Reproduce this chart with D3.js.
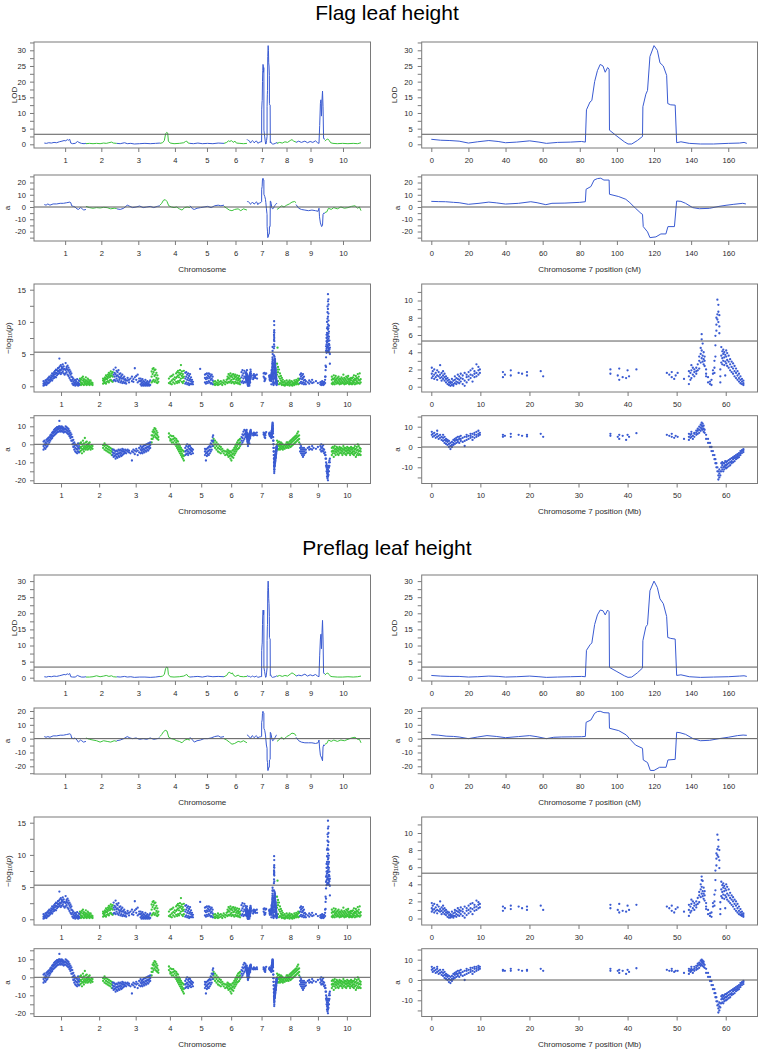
<!DOCTYPE html>
<html><head><meta charset="utf-8">
<script src="https://cdn.jsdelivr.net/npm/d3@7"></script>
<style>body{margin:0;background:#fff}svg{display:block}text{font-family:"Liberation Sans",Arial,sans-serif}</style>
</head><body><script>
// ---------------- DATA ----------------
const chromosomes = ["1","2","3","4","5","6","7","8","9","10"];
const chrLengthCM = [236,174,245,170,193,130,170,108,164,204];
const chrLengthMb = [80.9,77.7,74.4,68.0,62.4,62.2,64.3,55.5,59.4,61.0];
const chr7TicksCM = [0,20,40,60,80,100,120,140,160];
const chr7TicksMb = [0,10,20,30,40,50,60];
const titles = ["Flag leaf height","Preflag leaf height"];
const lodThreshold = [3.2, 3.3];
const gwasThreshold = [5.3, 5.3];

// QTL scan, chromosome 7 (cM, value) flat pairs
const lodFlagChr7 = [0,1.6,5,1.3,10,1.2,15,1.0,20,0.4,25,0.8,31,1.2,36,0.9,40,0.5,46,0.7,53,1.1,58,0.7,62,0.3,68,0.6,75,0.7,81,0.9,83,0.7,83.6,11,85.5,13.5,86.5,14,88,20,89.5,23.5,91,25.5,92.5,25,93.7,23,95,24.5,95.8,24,96,4.5,100,2.6,104,0.8,106,0.1,108,0.1,111,1.2,113.8,2.5,114,12,115.6,16,116.5,17.2,117.8,28,120,31.5,121.8,30,123.2,26,125,25,126.8,22,127.4,13,129,12.6,131.4,12.5,132.2,0.5,134.5,0.8,139,0.3,145,0.1,152,0.1,160,0.3,166,0.4,168.5,0.6,170,0.3];
const lodPreflagChr7 = [0,0.7,5,0.5,10,0.4,15,0.4,20,0.2,25,0.3,31,0.5,36,0.4,40,0.2,46,0.3,53,0.5,58,0.3,62,0.1,68,0.2,75,0.3,81,0.4,83,0.3,83.6,8.5,85.5,10.2,86.5,10.8,88,16.5,89.5,19.5,91,21,92.5,20.8,93.7,19.5,95,21,95.8,20.5,96,3.2,100,1.9,104,0.6,106,0.1,108,0.2,111,1.5,113.8,3,114,11.5,115.6,15.8,116.5,16.5,117.8,27,120,30,121.8,28,123.2,24.5,125,23,126.8,19,127.4,12.5,129,12.2,131.4,12,132.2,0.7,134.5,0.9,139,0.3,145,0.1,152,0.2,160,0.3,166,0.5,168.5,0.6,170,0.4];
const aFlagChr7 = [0,4.6,4,4.4,7.7,4.3,12,3.8,15,3.5,20,2.2,25.7,3,31,4,35,3.4,40,2.4,47,3,53.6,4.3,57,3.5,61.7,1.9,65,3,72,3.2,80,3.8,83,4.3,83.4,14.5,86,16.7,87.7,22,89.5,23.2,91.3,23.5,93,22,95.8,22,96,10.4,101,8.5,104.8,6.3,107,3.5,110,-1,113,-5.2,113.8,-6,114.2,-16,116.5,-20.3,117.8,-25,121,-24.4,123.7,-22,126.4,-22,127.5,-16,131,-16,132.2,4.9,134.5,4.6,137,3,140.8,-0.5,144.4,-1.4,149.8,-1.1,155,0.5,158.8,1.4,163,2.2,167.8,3,169.5,2.5];
const aPreflagChr7 = [0,2.9,4,2.5,8,1.8,12,1.6,15,1.2,20,0,25,1.2,30,2.2,35,1.6,40,0.7,47,1.5,53,2.2,57,1.4,62,0,66,1.0,70,1.2,76,1.3,81,1.4,83,1.6,83.4,11.8,86,13.5,88,18.3,89.5,19.6,91,19.8,93,18.8,95.8,18.6,96,7.5,101,5.8,105,2.7,107.5,-1,110,-4.6,113.8,-7,114.2,-15.4,116.5,-17.3,118,-23,120,-23,123,-20.7,126.5,-20.7,127.5,-15.4,131.4,-15,132.2,4.6,134,4.3,137,3.1,141,0,145,-1.5,150,-1.2,155,0,160,1,165,2.2,168,2.6,170,2.4];

// QTL scan, other chromosomes (index = chromosome-1; chromosome 7 comes from the arrays above)
const lodFlag = [
 [0,0.4,12,0.3,25,0.5,40,0.4,55,0.6,70,0.5,85,0.8,100,1.0,112,1.2,122,1.1,130,1.5,138,1.3,144,1.6,150,0.4,160,0.2,175,0.3,188,0.9,196,0.6,210,0.3,225,0.2,236,0.3],
 [0,0.2,20,0.3,40,0.2,60,0.3,80,0.2,100,0.4,115,0.3,130,0.5,145,0.7,155,0.4,174,0.3],
 [0,0.3,20,0.2,45,0.5,60,0.2,80,0.3,100,0.1,130,0.2,160,0.3,190,0.2,220,0.3,245,0.4],
 [0,0.3,15,0.5,25,1.2,32,3.3,38,3.8,44,3.6,48,1.0,58,0.4,80,0.2,110,0.3,135,0.5,145,0.9,152,1.0,160,0.4,170,0.3],
 [0,0.3,20,0.2,45,0.4,70,0.2,100,0.3,130,0.2,160,0.4,193,0.3],
 [0,0.3,15,0.6,25,1.1,33,0.9,42,1.2,52,0.6,62,1.0,70,0.4,90,0.3,110,0.2,130,0.3],
 null,
 [0,0.3,15,0.6,30,0.4,45,0.8,60,0.6,75,1.2,85,1.5,95,1.0,108,0.7],
 [0,0.6,15,1.0,30,0.6,50,1.0,65,0.5,80,0.9,95,0.6,110,1.1,122,0.5,130,0.3,134,6,138,13,141,14.2,144,9,147,14,150,17,153,12,156,2,160,1.6,164,1.8],
 [0,1.0,8,1.5,16,1.7,24,1.2,32,0.5,45,0.3,70,0.2,100,0.3,130,0.2,160,0.3,185,0.2,204,0.5]
];
const lodPreflag = [
 [0,0.3,12,0.2,25,0.4,40,0.3,55,0.5,70,0.4,85,0.6,100,0.8,112,1.0,122,0.9,130,1.2,138,1.0,144,1.3,150,0.3,160,0.2,175,0.2,188,0.7,196,0.5,210,0.2,225,0.2,236,0.3],
 [0,0.2,20,0.2,40,0.3,60,0.6,80,0.3,100,0.5,115,0.7,130,0.4,145,0.6,155,0.3,174,0.2],
 [0,0.3,20,0.2,45,0.4,60,0.2,80,0.3,100,0.1,130,0.2,160,0.2,190,0.1,220,0.2,245,0.4],
 [0,0.3,15,0.5,25,1.0,32,2.8,38,3.3,44,3.1,48,1.0,58,0.3,80,0.2,110,0.3,135,0.5,145,0.8,152,1.0,160,0.4,170,0.2],
 [0,0.2,20,0.3,45,0.4,70,0.2,100,0.5,130,0.3,160,0.4,193,0.3],
 [0,0.3,15,0.7,25,1.6,33,1.7,40,1.2,47,1.5,55,0.7,65,0.4,80,0.8,90,0.4,110,0.3,130,0.4],
 null,
 [0,0.4,15,0.7,30,0.4,45,0.7,60,0.5,75,1.1,85,1.5,95,1.2,108,0.6],
 [0,0.5,15,0.8,30,0.6,50,1.1,65,0.5,80,0.9,95,0.6,110,1.0,122,0.5,130,0.3,134,7,138,12,141,13.5,144,9,147,14,150,17.8,153,12,156,1.5,160,1.2,164,1.4],
 [0,0.8,8,1.3,16,1.4,24,1.0,32,0.4,45,0.3,70,0.2,100,0.2,130,0.3,160,0.2,185,0.3,204,0.5]
];
const aFlag = [
 [0,2,10,1.5,20,2.5,32,1.5,50,2.5,70,2.5,90,3,108,3,127,3.5,145,4,150,3.5,155,1,165,0.5,174,0,185,-1.5,193,-2,205,-0.5,212,-1,222,-2.5,236,-2],
 [0,0.5,20,-0.5,40,-1,60,-0.5,80,-0.8,100,-0.3,120,-0.5,140,-1.5,160,-1,174,-1.2],
 [0,-1.5,20,-2,40,-1,60,1.5,75,0.5,90,-0.5,110,0,130,0.8,150,-0.5,170,0,190,0.5,210,-0.5,230,0.5,245,1],
 [0,1.5,10,3,20,5.5,30,6,40,4.5,50,1,65,0,80,-0.5,95,0,110,-1.5,125,-2.5,140,-0.5,155,0,170,-0.5],
 [0,1,15,-1.5,25,-2,40,-1,60,-0.5,80,0,100,0.5,120,-0.5,140,1,160,1.5,175,1,193,1.5],
 [0,0.5,15,-1,30,-2.5,45,-3,60,-2,80,-1.5,95,-3,110,-1.5,130,-2.5],
 null,
 [0,-2,15,-0.5,25,1,40,0,55,1.5,70,2.5,85,4,100,4.5,108,3.5],
 [0,2,15,-1,30,-2,50,-2.5,70,-3,90,-2.5,110,-3,125,-3.5,130,-1,133,-8,138,-13,145,-16,150,-15,153,-6,157,-5,164,-5],
 [0,-4.5,10,-4,20,-1,35,-2,50,-0.5,70,-1.5,90,0,110,-1,130,-0.5,150,0.5,170,1,185,-1,195,0,204,-3]
];
const aPreflag = [
 [0,1.5,10,1,20,1.5,32,1,50,2,70,2,90,2.5,108,2.5,127,3,145,3.5,150,3,155,0.5,165,0,174,0.5,185,-1,193,-2.5,205,-1,212,-1.5,222,-2.5,236,-2],
 [0,0.5,20,-0.5,40,-1,60,-1.5,80,-2.5,100,-1.5,120,-2,140,-2.5,160,-1.5,174,-2],
 [0,-1.5,20,-1,40,0,60,1.5,75,0.5,90,0,110,0.5,130,-0.5,150,0,170,-0.5,190,0.5,210,-0.5,230,0,245,0.5],
 [0,1.5,10,3,20,5,30,6,40,5.5,50,1,65,0,80,-0.5,95,-1.5,110,-2,125,-3,140,-1,155,-0.5,170,-1],
 [0,1,15,-1,25,-2.5,40,-1.5,60,-1,80,0,100,0,120,0.5,140,1.5,160,2,175,1,193,1.5],
 [0,0,15,-1,30,-2.5,45,-4,60,-3.5,80,-2,95,-2.5,110,-1.5,130,-3],
 null,
 [0,-2,15,-0.5,25,1,40,-0.5,55,1.5,70,2.5,85,4,100,3.5,108,2],
 [0,1,15,-1.5,30,-2.5,50,-3,70,-3,90,-3,110,-3.5,125,-3,130,-1,133,-6,138,-12,145,-14,150,-16,153,-6,157,-4.5,164,-5],
 [0,-4,10,-3.5,20,-1,35,-2,50,-1,70,-2,90,-1,110,-1.5,130,-0.5,150,0.5,170,1,185,-0.5,195,-0.5,204,-3]
];

// GWAS, chromosome 7 only: rows [position Mb, values...]
const logpFlagChr7 = [[0.1,1.5,2.2,1.0],[0.3,1.8,1.2],[0.6,1.4,2.0,0.9],[0.9,1.6,1.1],[1.2,1.3,1.9,0.8],[1.5,1.2,1.7],[1.8,2.5,1.4,1.0],[2.1,1.1,1.6,0.7],[2.4,0.9,1.3,1.8],[2.7,0.7,1.1,1.5],[3.0,0.5,0.9,1.2],[3.3,0.3,0.7,1.0],[3.6,0.2,0.5,0.8],[3.9,0.1,0.4,0.6],[4.2,0.2,0.5,0.9],[4.5,0.1,0.3,0.7],[4.8,0.4,0.8,1.2],[5.1,0.3,0.6,1.0],[5.4,0.5,0.9,1.4],[5.7,0.4,0.8,1.2],[6.0,0.6,1.0,1.5],[6.4,0.3,0.9,1.3],[6.8,0.1,0.7,1.6],[7.2,0.5,1.1,1.4],[7.6,0.8,1.2,1.7],[8.0,1.0,1.4,1.9],[8.4,0.6,1.3,2.1],[8.8,1.1,1.5,1.8],[9.2,1.2,1.6,2.6],[9.6,1.4,1.9,2.3],[9.9,1.6,2.0],[14.6,1.7,1.1],[15.0,1.4],[16.2,1.9,1.3],[17.8,1.6],[18.5,1.5],[19.5,1.7,1.3],[22.3,1.8],[22.8,1.2],[36.5,2.0,1.5],[38.0,1.3],[38.3,2.1,0.8],[39.0,1.1],[39.7,1.0],[40.0,1.9],[40.3,1.2],[41.8,2.0],[48.0,1.6],[48.5,1.4],[49.0,1.7,1.1],[49.5,0.9],[49.8,1.3],[50.2,1.6],[51.5,0.9],[52.5,0.3,1.2,1.8],[52.8,0.8,1.6],[53.0,1.0,1.9,2.5],[53.3,1.4,2.2],[53.6,1.2,2.0,1.7],[54.0,1.5,2.2,1.8],[54.3,1.9,2.6],[54.6,2.1,3.0,3.5],[54.9,2.8,3.8,4.5],[55.1,3.3,4.2,5.5,6.1],[55.3,2.9,3.6,5.0],[55.5,2.6,3.2,4.0],[55.7,2.4,3.0,3.5],[56.0,1.2,2.0,1.5],[56.4,0.5,1.1],[56.8,0.3,0.6],[57.1,0.2,0.8],[57.4,1.5,1.9],[57.7,1.6,2.2,3.0],[57.9,3.5,4.8,5.9],[58.1,6.5,7.2,8.0],[58.3,10.1,7.8,8.4],[58.5,7.5,8.7,9.5],[58.7,6.2,7.0,8.3],[58.9,0.5,1.2,2.0],[59.1,2.8,3.6,4.6],[59.3,2.6,3.3,4.1],[59.5,3.0,3.8,4.3],[59.7,2.5,3.4,4.0],[59.9,1.3,2.9,3.7],[60.1,2.7,3.5,4.2],[60.3,2.4,3.1,3.9],[60.6,2.2,2.9,3.6],[60.9,1.9,2.6,3.2],[61.2,1.7,2.3,2.9],[61.5,1.5,2.1,2.7],[61.8,1.2,1.8,2.4],[62.1,1.0,1.6,2.1],[62.4,0.8,1.3,1.8],[62.7,0.6,1.0,1.5],[63.0,0.4,0.8,1.2],[63.3,0.3,0.6,0.9],[63.6,0.2,0.4,0.7]];
const logpPreflagChr7 = [[0.1,1.2,1.8,0.8],[0.3,1.5,1.0],[0.6,1.1,1.7,0.7],[0.9,1.3,0.9],[1.2,1.0,1.6,0.6],[1.5,0.9,1.4],[1.8,2.0,1.1,0.8],[2.1,0.9,1.3,0.5],[2.4,0.7,1.1,1.5],[2.7,0.5,0.9,1.2],[3.0,0.4,0.7,1.0],[3.3,0.2,0.6,0.8],[3.6,0.1,0.4,0.7],[3.9,0.1,0.3,0.5],[4.2,0.2,0.4,0.8],[4.5,0.1,0.3,0.6],[4.8,0.3,0.7,1.0],[5.1,0.2,0.5,0.9],[5.4,0.4,0.8,1.2],[5.7,0.3,0.7,1.0],[6.0,0.5,0.9,1.3],[6.4,0.3,0.8,1.1],[6.8,0.1,0.6,1.4],[7.2,0.4,0.9,1.2],[7.6,0.6,1.0,1.5],[8.0,0.8,1.2,1.7],[8.4,0.5,1.1,1.8],[8.8,0.9,1.3,1.6],[9.2,1.0,1.4,2.1],[9.6,1.2,1.6,1.9],[9.9,1.3,1.7],[14.6,1.4,0.9],[15.0,1.2],[16.2,1.5,1.1],[17.8,1.4],[18.5,1.2],[19.5,1.4,1.0],[22.3,1.5],[22.8,1.0],[36.5,1.6,1.2],[38.0,1.0],[38.3,1.7,0.7],[39.0,0.9],[39.7,0.8],[40.0,1.5],[40.3,1.0],[41.8,1.6],[48.0,1.4],[48.5,1.2],[49.0,1.5,0.9],[49.5,0.7],[49.8,1.1],[50.2,1.3],[51.5,0.8],[52.5,0.3,1.0,1.6],[52.8,0.7,1.4],[53.0,0.9,1.7,2.2],[53.3,1.2,2.0],[53.6,1.0,1.8,1.5],[54.0,1.3,2.0,1.6],[54.3,1.7,2.4],[54.6,1.9,2.7,3.1],[54.9,2.5,3.4,4.0],[55.1,2.9,3.7,4.5,4.9],[55.3,2.6,3.2,4.4],[55.5,2.3,2.9,3.6],[55.7,2.1,2.7,3.2],[56.0,1.1,1.8,1.4],[56.4,0.5,1.0],[56.8,0.3,0.6],[57.1,0.2,0.7],[57.4,1.4,1.8],[57.7,1.5,2.0,2.8],[57.9,3.3,4.5,5.6],[58.1,6.2,7.0,7.6],[58.3,9.8,7.4,8.1],[58.5,7.2,8.4,9.2],[58.7,5.9,6.8,8.0],[58.9,0.5,1.1,1.9],[59.1,2.6,3.4,4.3],[59.3,2.4,3.1,3.9],[59.5,2.8,3.6,4.1],[59.7,2.3,3.2,3.8],[59.9,1.2,2.7,3.5],[60.1,2.5,3.3,4.0],[60.3,2.2,2.9,3.7],[60.6,2.0,2.7,3.4],[60.9,1.8,2.4,3.0],[61.2,1.6,2.2,2.7],[61.5,1.4,2.0,2.5],[61.8,1.1,1.7,2.2],[62.1,0.9,1.5,2.0],[62.4,0.7,1.2,1.7],[62.7,0.5,0.9,1.4],[63.0,0.4,0.7,1.1],[63.3,0.3,0.5,0.8],[63.6,0.2,0.4,0.6]];
const effFlagChr7 = [[0.1,6,7.5],[0.3,5,6.5],[0.6,5.5,7],[0.9,4.5,6],[1.2,5,6.5,8],[1.5,4,5.5],[1.8,4.5,6],[2.1,3.5,5],[2.4,3,4.5,6],[2.7,2,3.5,5],[3.0,1.5,3,4],[3.3,1,2.5,3.5],[3.6,0,1.5,3],[3.9,-1,0.5,2],[4.2,0,1,2.5],[4.5,1,2,3.5],[4.8,1.5,3,4],[5.1,2,3.5,4.5],[5.4,2.5,3.5,5],[5.7,2,4,5],[6.0,3,4,5.5],[6.4,2.5,4.5],[6.8,0.5,3,5],[7.2,3.5,5,6],[7.6,4,5.5],[8.0,4.5,5.5,6.5],[8.4,3.5,5,6.5],[8.8,4.5,6,7],[9.2,5,6,7.5],[9.6,5.5,6.5,8],[9.9,6,7],[14.6,6,5],[15.0,5.5],[16.2,6.5,5],[17.8,6],[18.5,5.5],[19.5,5.2,6],[22.3,6.5],[22.8,5],[36.5,6.5,5.5],[38.0,5],[38.3,4,6],[39.0,5.5],[39.7,3.5],[40.0,6],[40.3,5],[41.8,6.8],[48.0,6],[48.5,5.5],[49.0,6.5,5],[49.5,4.5],[49.8,5.5],[50.2,5],[51.5,4],[52.5,3.5,5,6.5],[52.8,4.5,6],[53.0,5,6.5,7.5],[53.3,4,5.5],[53.6,5,6.5,7],[54.0,6,7,8],[54.3,6.5,8,9],[54.6,7,8.5,10],[54.9,8,9.5,11],[55.1,9,10.5,12],[55.3,8.5,10,11.5],[55.5,7.5,9,10.5],[55.7,7,8.5],[56.0,4,6],[56.4,2,4],[56.8,0,2],[57.1,-2,0],[57.4,-4,-2],[57.7,-6,-4],[57.9,-8,-6],[58.1,-10,-8],[58.3,-12,-10],[58.5,-16,-14,-12],[58.7,-15,-13,-11],[58.9,-14,-12],[59.1,-12,-10,-8],[59.3,-11,-9,-7.5],[59.5,-12,-10,-8],[59.7,-11,-9.5,-8],[59.9,-10,-9,-7],[60.1,-10.5,-9,-7.5],[60.3,-10,-8.5,-7],[60.6,-9.5,-8,-6.5],[60.9,-9,-7.5,-6],[61.2,-8,-7,-5.5],[61.5,-7.5,-6,-5],[61.8,-7,-5.5,-4.5],[62.1,-6,-5,-4],[62.4,-5.5,-4.5,-3.5],[62.7,-5,-4,-3],[63.0,-4,-3,-2],[63.3,-3,-2,-1.5],[63.6,-2.5,-1.5,-1]];
const effPreflagChr7 = [[0.1,5,6.5],[0.3,4,5.5],[0.6,4.5,6],[0.9,3.5,5],[1.2,4,5.5,6.5],[1.5,3,4.5],[1.8,3.5,5],[2.1,2.5,4],[2.4,2,3.5,5],[2.7,1,2.5,4],[3.0,0.5,2,3],[3.3,0,1.5,2.5],[3.6,-1,0.5,2],[3.9,-1.5,0,1.5],[4.2,-0.5,0.5,2],[4.5,0.5,1.5,3],[4.8,1,2.5,3.5],[5.1,1.5,3,4],[5.4,2,3,4.5],[5.7,1.5,3.5,4.5],[6.0,2.5,3.5,5],[6.4,2,4],[6.8,0,2.5,4.5],[7.2,3,4.5,5.5],[7.6,3.5,5],[8.0,4,5,6],[8.4,3,4.5,6],[8.8,4,5.5,6.5],[9.2,4.5,5.5,6.5],[9.6,5,6,7],[9.9,5.5,6.5],[14.6,5,4.5],[15.0,4.5],[16.2,5.5,4.5],[17.8,5],[18.5,4.5],[19.5,4.5,5],[22.3,5.5],[22.8,4.5],[36.5,5.5,4.5],[38.0,4.5],[38.3,3.5,5],[39.0,4.5],[39.7,3],[40.0,5],[40.3,4],[41.8,5.8],[48.0,5],[48.5,4.5],[49.0,5.5,4.5],[49.5,4],[49.8,4.5],[50.2,4.5],[51.5,3.5],[52.5,3,4.5,5.5],[52.8,4,5],[53.0,4.5,5.5,6.5],[53.3,3.5,5],[53.6,4.5,5.5,6.5],[54.0,5,6,7],[54.3,5.5,7,8],[54.6,6,7.5,8.5],[54.9,7,8,9.5],[55.1,7.5,9,10],[55.3,7,8.5,9.5],[55.5,6.5,8,9],[55.7,6,7.5],[56.0,3.5,5.5],[56.4,1.5,3.5],[56.8,-0.5,1.5],[57.1,-2.5,-0.5],[57.4,-4.5,-2.5],[57.7,-6.5,-4.5],[57.9,-8.5,-6.5],[58.1,-10.5,-8.5],[58.3,-12.5,-10.5],[58.5,-16,-14,-12],[58.7,-15,-13,-11],[58.9,-13.5,-11.5],[59.1,-11.5,-9.5,-8],[59.3,-11,-9,-7.5],[59.5,-11.5,-9.5,-8],[59.7,-10.5,-9,-7.5],[59.9,-10,-8.5,-7],[60.1,-10,-8.5,-7],[60.3,-9.5,-8,-6.5],[60.6,-9,-7.5,-6],[60.9,-8.5,-7,-5.5],[61.2,-7.5,-6.5,-5],[61.5,-7,-5.5,-4.5],[61.8,-6.5,-5,-4],[62.1,-5.5,-4.5,-3.5],[62.4,-5,-4,-3],[62.7,-4.5,-3.5,-2.5],[63.0,-3.5,-2.5,-1.5],[63.3,-2.5,-1.5,-1],[63.6,-2,-1,-0.5]];

// GWAS, genome-wide except chromosome 7: rows [cumulative position Mb, values...]
const logpBlue = [[4,0.1,0.4,0.8],[6,0.2,0.6,0.3],[8,0.3,0.9,0.5],[10,0.2,0.7,1.0],[12,0.4,1.1,0.6],[14,0.5,1.3,0.9],[16,0.6,1.0,1.5],[18,0.8,1.4,1.1],[20,1.0,1.7,1.3],[22,0.9,1.5,2.0],[24,1.2,1.9,1.6],[26,1.3,2.2,1.8],[28,1.5,2.4,1.9],[30,1.4,2.1,2.6],[32,1.7,2.5,2.0],[34,1.9,2.8,2.3],[36,2.0,2.9,2.4],[37,4.3],[38,2.2,3.1,2.6],[40,2.5,3.3,1.9],[42,2.1,3.0,2.7],[44,2.3,2.8,3.4],[46,2.0,2.6,3.1],[48,1.8,2.7],[50,2.5,3.6,2.0],[52,2.2,3.0,2.7],[54,1.8,2.6,3.2],[56,1.6,2.4,2.9],[58,1.3,2.1,2.6],[60,1.0,1.8,2.3],[62,0.8,1.5,2.0],[64,0.4,1.0,1.4],[66,0.2,0.7,1.2],[68,0.3,0.9,0.5],[70,0.1,0.6,1.0],[72,0.3,0.8,0.4],[74,0.2,0.5,1.1],[76,0.1,0.6,0.3],[78,0.4,0.9,0.2],[150,0.9,1.8,2.6],[152,1.0,2.1,1.5],[154,0.8,1.9,2.9],[156,1.2,2.4,1.6],[158,0.9,1.7,2.2],[160,0.7,1.5,2.5],[162,1.0,1.9,1.3],[164,0.6,1.4,2.0],[166,0.8,1.6,1.2],[168,0.5,1.2,1.8],[170,0.7,1.3],[172,0.5,1.0,1.5],[174,0.6,1.1],[176,0.4,0.9],[179,0.9,1.3],[182,1.0,0.6],[185,1.2],[188,0.8,1.5],[191,1.1,0.7],[194,1.4,2.8],[197,1.0,1.6],[200,0.6,1.8],[203,1.2,0.8],[206,0.3,0.8,1.2],[208,0.1,0.5,0.9],[210,0.2,0.6,1.1],[212,0.1,0.4,0.8],[214,0.3,0.7,0.2],[216,0.1,0.5,1.0],[218,0.2,0.6,0.3],[220,0.1,0.4,0.8],[222,0.2,0.5],[224,0.3,0.7,0.1],[226,0.2,0.9],[299,0.4,1.2,2.1],[301,0.6,1.5,2.2],[303,0.3,1.0,1.8],[305,0.5,1.3,2.0],[307,0.2,0.9,1.6],[309,0.4,1.1,1.9],[311,0.3,0.8,1.4],[313,0.5,1.0],[315,0.3,0.7],[330,2.7],[340,0.6,1.3,1.8],[342,0.4,1.1,1.9],[344,0.7,1.4,2.0],[346,0.5,1.2,1.7],[348,0.8,1.5,2.0],[350,0.6,1.3,1.9],[352,0.4,1.0,1.6],[354,0.5,1.2,1.8],[356,0.3,0.9,1.5],[416,0.6,1.4,2.2],[418,0.8,1.7,2.5],[420,0.5,1.2,2.0],[422,0.7,1.5,2.4],[424,0.6,1.3,2.1],[538,0.5,1.2,1.8],[540,0.7,1.5,2.0],[542,0.4,1.1,1.7],[544,0.6,1.3,1.9],[546,0.3,0.9,1.5],[548,0.5,1.0],[550,0.3,0.8],[554,0.6],[557,0.9,0.4],[560,0.7],[563,1.0,0.5],[566,0.6],[571,0.8],[575,0.5],[580,0.3,0.6],[582,0.2,0.7,0.4],[584,0.3,0.8],[586,0.4,0.6,0.2],[588,0.3,0.7],[590,0.5,1.0,1.5]];
const logpGreen = [[80,0.3,0.8,1.2],[82,0.2,0.6,1.0],[84,0.5,1.3,0.4],[86,0.3,0.9,1.5],[88,0.2,0.7,1.1],[90,0.4,1.0,0.6],[92,0.3,0.8,1.4],[94,0.2,0.5,0.9],[96,0.4,1.2,0.7],[98,0.3,0.6,1.0],[100,0.2,0.8,0.5],[102,0.4,0.9],[104,0.3,0.6],[106,0.2,0.5],[128,0.4,0.9,1.2],[130,0.5,1.1,0.8],[132,0.6,1.4,1.0],[134,0.4,1.2,1.7],[136,0.7,1.5,1.1],[138,0.8,1.8,1.3],[140,0.6,1.6,2.1],[142,0.9,1.9,1.4],[144,1.0,2.3,1.6],[146,0.8,1.7,2.0],[148,0.7,1.5,2.2],[229,0.6,1.5,2.3],[231,0.8,1.9,2.7],[233,1.0,2.2,2.8],[235,0.7,1.6,2.5],[237,0.9,1.8,2.6],[239,0.6,1.3,2.1],[241,0.5,1.0,1.7],[243,0.7,1.2],[265,0.5,1.2],[268,0.7,1.5,0.4],[271,0.3,0.9,1.6],[274,0.6,1.1,1.8],[277,0.4,1.0,1.4],[280,0.7,1.3,2.0],[282,0.5,1.5,2.2],[284,0.8,1.7,2.4],[286,0.6,1.4,2.1],[288,0.9,1.8,2.5],[290,3.3,1.2,2.0],[292,0.7,1.6,2.3],[294,0.5,1.3,1.9],[296,0.8,1.5,2.4],[358,0.3,0.7],[361,0.4,0.8,0.2],[364,0.3,0.6],[367,0.5,0.9,0.2],[370,0.3,0.7],[373,0.4,0.8],[376,0.2,0.6],[379,0.5,0.9],[382,0.3,0.7],[385,0.6,1.0],[387,0.5,1.1,1.5],[389,0.7,1.3,1.9],[391,0.6,1.2,1.7],[393,0.8,1.5,2.0],[395,0.5,1.0,1.6],[397,0.7,1.4,1.8],[399,0.6,1.1,1.9],[401,0.4,1.2,1.6],[403,0.7,1.4,1.8],[405,0.5,1.0,1.5],[407,0.6,1.2,1.7],[409,0.4,0.9,1.3],[411,0.5,1.1,1.6],[413,0.3,0.8,1.2],[490,0.5,1.8,3.5],[491,6.0,2.6],[492,0.8,2.2,3.0],[494,0.3,1.5,2.6],[496,0.5,1.2,2.0],[498,0.4,0.9,1.6],[500,0.2,0.7,1.3],[502,0.3,0.6,1.0],[504,0.2,0.6],[506,0.3,0.8,0.1],[508,0.2,0.5],[510,0.4,0.9],[512,0.2,0.6,0.3],[514,0.3,0.7],[516,0.1,0.5,0.9],[518,0.3,0.6],[520,0.2,0.8],[522,0.4,0.7,0.1],[524,0.3,0.5],[526,0.2,0.9,0.5],[528,0.4,0.7],[530,0.3,0.6,1.0],[532,0.5,0.8],[534,0.3,0.9,1.2],[536,0.4,1.0],[604,0.4,1.0,1.5],[606,0.6,1.2,0.3],[608,0.5,1.1,1.7],[610,0.3,0.8,1.3],[612,0.6,1.0,1.6],[614,0.4,0.9,1.2],[616,0.7,1.3,0.5],[618,0.5,1.0,1.5],[620,0.3,0.8,1.2],[622,0.6,1.1,0.4],[624,0.4,0.9,1.4],[626,0.7,1.2,0.5],[628,0.5,1.0,1.8],[630,0.3,0.8,1.3],[632,0.6,1.1,0.4],[634,0.4,0.9,1.5],[636,0.7,1.3,0.5],[638,0.5,1.0,1.6],[640,0.3,0.8,1.2],[642,0.6,1.1,0.4],[644,0.4,0.9,1.3],[646,0.5,1.2,0.3],[648,0.4,0.8,1.4],[650,0.6,1.0,1.7],[652,0.3,0.9,1.2],[654,0.5,1.1,1.6],[656,0.4,0.8,1.3],[658,0.6,1.2,1.9],[660,0.5,1.0,1.5],[662,0.4,0.9,2.0],[664,0.6,1.1]];
const logpPeakFlag = [[591,1.5,2.5,3.2],[592,3.0,4.5,5.5,6.2],[593,5.2,5.8,6.5,7.0,7.5,8.0],[594,5.3,6.0,6.8,7.6,8.3,9.0,10.0],[595,5.5,6.3,7.2,8.1,9.2,10.5,11.5,12.4],[596,5.4,6.1,7.0,7.8,8.8,9.6,10.8,12.0,13.2,14.3],[597,5.6,6.5,7.4,8.2,9.0,10.2,11.3,12.7,13.5],[598,5.3,5.9,6.6,7.7,8.5,9.4],[599,5.2,5.7,6.4,7.1],[600,3.5,5.0,6.0]];
const logpPeakPreflag = [[591,1.6,2.7,3.5],[592,3.2,4.8,5.8,6.6],[593,5.3,6.0,6.8,7.4,8.0,8.6],[594,5.4,6.2,7.1,8.0,8.9,9.8,10.8],[595,5.6,6.5,7.5,8.5,9.7,11.0,12.2,13.2],[596,5.5,6.3,7.3,8.2,9.3,10.2,11.5,12.8,14.1,15.3],[597,5.7,6.7,7.7,8.6,9.5,10.8,12.0,13.4,14.4],[598,5.4,6.1,6.9,8.0,8.9,9.9],[599,5.3,5.9,6.7,7.4],[600,3.7,5.2,6.3]];
const effBlue = [[4,-3,-1,1.5],[6,-2,0,2],[8,-2.5,-0.5,1],[10,-1.5,0.5,2.5],[12,-1,1.5,3],[14,0,2,3.5],[16,1,2.5,4],[18,2,3.5,5],[20,3,4.5,5.5],[22,3.5,5,6.5],[24,4.5,6,7],[26,5,6.5,8],[28,5.5,7,8.5],[30,6,7.5,9],[32,6.5,8,9.5],[34,7,8.5,9.5],[36,7,8.5,10],[37,13],[38,7.5,9,10],[40,7,8.5,9.5],[42,7.5,9,10],[44,7,8.5,9.5],[46,6.5,8,9],[48,7,8.5],[50,7,8.5,10],[52,6.5,8,9.5],[54,6,7.5,9],[56,5.5,7,8.5],[58,4.5,6,7.5],[60,3.5,5,6.5],[62,2,4,5.5],[64,0,2,4],[66,-1.5,0.5,2.5],[68,-3,-1,1],[70,-4,-2,0],[72,-4.5,-2.5,-0.5],[74,-5,-3,-1],[76,-4,-2,0.5],[78,-4.5,-2.5,-1],[148,-6,-4.5,-3],[150,-7,-5,-3],[152,-6.5,-5,-3.5],[154,-8,-6,-4],[156,-7,-5.5,-3.5],[158,-7.5,-5.5,-4],[160,-6.5,-5,-3],[162,-7,-5,-3.5],[164,-6,-4.5,-3],[166,-6.5,-5,-3.5],[168,-6,-4,-2.5],[170,-5.5,-4,-3],[172,-5,-4],[174,-4.5,-3],[176,-5,-3.5],[179,-4,-3],[182,-3.5,-4.5],[185,-5],[188,-9,-4],[191,-4.5,-3],[194,-5.5,-3.5],[197,-4,-2.5],[200,-6,-3.5],[203,-4.5,-2],[206,-5,-3,-1],[208,-4.5,-3.5,-2],[210,-5,-3,-1.5],[212,-4,-2.5,-1],[214,-4.5,-3,-0.5],[216,-3.5,-2,-0.5],[218,-4,-2,0],[220,-3,-1.5,0],[222,-3.5,-1.5,0.5],[224,-2.5,-1,0.5],[226,-2,-0.5,1],[299,-6,-4,-2],[301,-5.5,-3.5,-1],[303,-5,-3,0],[305,-6,-4,-1.5],[307,-5,-2.5,-0.5],[309,-4.5,-3,-1],[311,-5.5,-3.5,-2],[313,-4,-2.5],[315,-5,-3],[340,-6,-4,-2.5],[342,-9,-5,-3],[344,-6.5,-4.5,-2.5],[346,-5.5,-4,-2],[348,-6,-3.5,-1.5],[350,-5,-3,-1],[352,-4,-1.5,0.5],[354,-3,0,2],[356,-1,1.5,4],[357,2,5],[416,0,2,4],[418,1,3.5,5.5],[420,2,5,7],[422,3,5.5,8],[424,4,6,7.5],[538,-4,-2,0],[540,-5,-3,-1],[542,-6,-4,-2],[544,-7,-5,-3],[546,-6,-4,-2],[548,-5,-3],[550,-4.5,-3],[554,-2],[557,-3,-1.5],[560,-2.5],[563,-3,-1],[566,-2],[571,-2.5],[575,-1.5],[580,-3,-1],[582,-4,-2,0],[584,-3.5,-1.5],[586,-4,-2.5,-0.5],[588,-5,-3],[590,-6,-4.5],[591,-8,-6],[592,-10,-8,-12],[593,-11,-13,-15],[594,-12,-14,-16,-18],[595,-13,-15,-17,-19],[596,-14,-16,-18,-20],[597,-12,-15,-17],[598,-10,-13,-15],[599,-9,-12],[600,-8,-10]];
const effGreen = [[80,-4,-2,0.5],[82,-3.5,-1.5,1],[84,-5,-2.5,0],[86,-3,-1,2],[88,-4,-2,0.5],[90,-2.5,-1,3.5],[92,-3,-1.5,1],[94,-2,-0.5,1.5],[96,-3,-1.5,0],[98,-2.5,-1,0.5],[100,-2,-1,1],[102,-3,-1.5],[104,-2,-0.5],[106,-2.5,-1],[128,-2,-0.5],[131,-3,-1,0.5],[134,-3.5,-2,-0.5],[137,-4,-2.5,-1],[140,-4.5,-3,-1.5],[143,-5,-3.5,-2],[146,-6,-4,-2.5],[229,1,3,5],[231,3,5,7],[233,4,6.5,8],[235,5,7,9],[237,4,6,8.5],[239,3.5,5.5,7.5],[241,3,5,6.5],[243,2.5,4],[265,4,6],[268,3,5,2],[271,2.5,4.5,1],[274,1,3,4.5],[277,0,2,3.5],[280,-1,1,3],[282,-2,0,2],[284,-3,-1,1.5],[286,-4,-2,0],[288,-5,-3,-1],[290,-6,-4,-2],[292,-7,-5,-3],[294,-8,-6,-3.5],[296,-9,-6.5,-4],[358,-1,1,3],[361,-2,0,2],[364,-3,-1,1],[367,-4,-2,0],[370,-4.5,-2.5,-1],[373,-5,-3,-1.5],[376,-4,-2.5],[379,-5,-3.5],[382,-6,-4],[385,-5.5,-4],[387,-6,-4.5,-3],[389,-7,-5,-3.5],[391,-6.5,-5,-4],[393,-8,-6,-4],[395,-9,-6.5,-4.5],[397,-7,-5.5,-3.5],[399,-7.5,-5,-3],[401,-6,-4,-2],[403,-5,-3,-1],[405,-4,-2,0],[407,-3,-1,1],[409,-2.5,0,2],[411,-2,0.5,2.5],[413,-1,1,3],[490,-2,0,2],[492,-3,-1,1],[494,-2.5,-0.5,1.5],[496,-3,-1.5,0.5],[498,-2,-0.5,1],[500,-2.5,-1,0.5],[502,-3,-1.5,0],[504,-2,-1],[506,-2.5,-0.5],[508,-1.5,0],[510,-2,-0.5,1],[512,-1.5,0,1],[514,-2,-0.5,0.5],[516,-1,0,1.5],[518,-1.5,0.5,2],[520,-1,1,2.5],[522,-0.5,1.5,3],[524,0,2,3.5],[526,0.5,2.5,4],[528,1,3,4.5],[530,1.5,3.5,5],[532,2,4,6],[534,2.5,4.5,7],[536,1,3,5],[604,-6,-4,-2],[606,-5,-3.5,-1.5],[608,-7,-4,-2],[610,-5,-3,-1],[612,-6,-4,-2.5],[614,-4.5,-3,-1.5],[616,-5.5,-3.5,-2],[618,-6,-4,-2.5],[620,-5,-3,-1.5],[622,-4.5,-3,-2],[624,-5,-3.5,-2],[626,-6,-4,-2.5],[628,-5,-3,-1],[630,-4.5,-3,-2],[632,-5.5,-3.5,-2],[634,-6,-4,-2.5],[636,-5,-3.5,-1.5],[638,-4.5,-3,-2],[640,-5,-3.5,-2.5],[642,-6,-4,-2],[644,-5,-3,-1.5],[646,-4.5,-3,-2],[648,-5.5,-4,-2.5],[650,-6,-4,-2],[652,-5,-3,-1],[654,-7,-4.5,-2.5],[656,-6,-3.5,-1.5],[658,-5,-3,0],[660,-6,-4,-1],[662,-5.5,-3.5,-2],[664,-6,-4,-2.5]];

// ---------------- DRAWING ----------------
const BLUE = "#3a5bd2", GREEN = "#3cc43c", BOXC = "#7a7a7a", TXT = "#2a2a2a";
const svg = d3.select("body").append("svg").attr("width", 759).attr("height", 1051);

const cmStart = [0, ...d3.cumsum(chrLengthCM)].slice(0, 10);
const mbStart = [0, ...d3.cumsum(chrLengthMb)].slice(0, 10);
const cmMid = chrLengthCM.map((l, i) => cmStart[i] + l / 2);
const mbMid = chrLengthMb.map((l, i) => mbStart[i] + l / 2);

function xLin(zero, k, L, R) { return d3.scaleLinear().domain([(L - zero) / k, (R - zero) / k]).range([L, R]); }
function yLin(zero, k, T, B) { return d3.scaleLinear().domain([(zero - B) / k, (zero - T) / k]).range([B, T]); }
const pairs = a => d3.range(0, a.length, 2).map(i => [a[i], a[i + 1]]);
const rows = (r, off = 0) => r.flatMap(row => row.slice(1).map(v => [row[0] + off, v]));

const LB = [34, 370.5], RB = [421.7, 757.5];

function panel(o) {
  const g = svg.append("g");
  const x = o.x, y = o.y;
  const [L, R] = x.range(), [B, T] = y.range();
  const yd = y.domain();
  const yt = d3.range(Math.ceil(yd[0] / o.yStep - 1e-9) * o.yStep, yd[1] + 1e-9, o.yStep);
  g.append("g").attr("transform", `translate(${L},0)`)
    .call(d3.axisLeft(y).tickValues(yt).tickSize(4).tickPadding(o.yPad)
      .tickFormat(v => Math.abs(v / o.yLab - Math.round(v / o.yLab)) < 1e-6 ? String(Math.round(v)) : ""));
  g.append("g").attr("transform", `translate(0,${B})`)
    .call(d3.axisBottom(x).tickValues(o.xTicks).tickSize(4).tickPadding(5.5)
      .tickFormat((d, i) => o.xLabels[i]));
  g.selectAll(".domain").remove();
  g.selectAll(".tick line").attr("stroke", BOXC);
  g.selectAll(".tick text").attr("fill", TXT).style("font-size", "7.6px").style("font-family", '"Liberation Sans",Arial,sans-serif');
  const dg = g.append("g");
  (o.lines || []).forEach(s => dg.append("path").datum(s.pts)
    .attr("d", d3.line().x(d => x(d[0])).y(d => y(d[1])))
    .attr("fill", "none").attr("stroke", s.color).attr("stroke-width", 1).attr("stroke-linejoin", "round"));
  (o.points || []).forEach(s => dg.selectAll(null).data(s.pts).join("circle")
    .attr("cx", d => x(d[0])).attr("cy", d => y(d[1])).attr("r", 1.15).attr("fill", s.color));
  if (o.hline != null) g.append("line").attr("x1", L).attr("x2", R)
    .attr("y1", y(o.hline)).attr("y2", y(o.hline)).attr("stroke", "#5a5a5a").attr("stroke-width", 1);
  g.append("rect").attr("x", L).attr("y", T).attr("width", R - L).attr("height", B - T)
    .attr("fill", "none").attr("stroke", BOXC).attr("stroke-width", 1);
  const yt2 = g.append("text").attr("transform", `translate(${o.yTitleX},${(T + B) / 2}) rotate(-90)`)
    .attr("text-anchor", "middle").attr("dominant-baseline", "central")
    .attr("fill", TXT).style("font-size", "8px");
  if (o.yTitle === "logp") {
    yt2.append("tspan").text("\u2212log");
    yt2.append("tspan").text("10").style("font-size", "5.6px").attr("dy", 2);
    yt2.append("tspan").text("(").attr("dy", -2);
    yt2.append("tspan").text("p").style("font-style", "italic");
    yt2.append("tspan").text(")");
  } else yt2.text(o.yTitle);
  if (o.xTitle) g.append("text").attr("x", (L + R) / 2).attr("y", B + 30.5)
    .attr("text-anchor", "middle").attr("fill", TXT).style("font-size", "8px").text(o.xTitle);
}

const traitData = [
  { lod: lodFlag, lod7: lodFlagChr7, a: aFlag, a7: aFlagChr7, logp7: logpFlagChr7, peak: logpPeakFlag, eff7: effFlagChr7 },
  { lod: lodPreflag, lod7: lodPreflagChr7, a: aPreflag, a7: aPreflagChr7, logp7: logpPreflagChr7, peak: logpPeakPreflag, eff7: effPreflagChr7 }
];
const yCfg = [
  { lod: yLin(144.3, 3.133, 42, 148), a: yLin(207, 1.225, 175, 241), gl: yLin(386.3, 6.44, 284, 392), gr: yLin(386.7, 8.617, 284, 392), el: yLin(444.3, 1.8, 415.7, 483.5), er: yLin(447, 2.03, 415.7, 483.5), title: 20 },
  { lod: yLin(677.7, 3.22, 575, 681), a: yLin(738.65, 1.3825, 708, 774), gl: yLin(919.3, 6.44, 817, 925), gr: yLin(918.5, 8.55, 817, 925), el: yLin(977.3, 1.8, 948.7, 1016.5), er: yLin(980, 2.03, 948.7, 1016.5), title: 555 }
];
const xCMg = xLin(44.3, 0.176533, LB[0], LB[1]);
const xMBg = xLin(41.6, 0.4805, LB[0], LB[1]);
const xCM7 = xLin(431.3, 1.856, RB[0], RB[1]);
const xMB7 = xLin(431.3, 4.907, RB[0], RB[1]);

traitData.forEach((td, h) => {
  const yc = yCfg[h];
  svg.append("text").attr("x", 387).attr("y", yc.title).attr("text-anchor", "middle")
    .attr("fill", "#000").style("font-size", "21px").text(titles[h]);
  const genomeLines = (arr, arr7) => chromosomes.map((c, i) => ({
    color: i % 2 === 0 ? BLUE : GREEN,
    pts: pairs(i === 6 ? arr7 : arr[i]).map(d => [d[0] + cmStart[i], d[1]])
  }));
  panel({ x: xCMg, y: yc.lod, yStep: 2.5, yLab: 5, yPad: 4, xTicks: cmMid, xLabels: chromosomes,
    lines: genomeLines(td.lod, td.lod7), hline: lodThreshold[h], yTitle: "LOD", yTitleX: 14 });
  panel({ x: xCM7, y: yc.lod, yStep: 2.5, yLab: 5, yPad: 5, xTicks: chr7TicksCM, xLabels: chr7TicksCM.map(String),
    lines: [{ color: BLUE, pts: pairs(td.lod7) }], hline: lodThreshold[h], yTitle: "LOD", yTitleX: 394 });
  panel({ x: xCMg, y: yc.a, yStep: 5, yLab: 10, yPad: 4, xTicks: cmMid, xLabels: chromosomes,
    lines: genomeLines(td.a, td.a7), hline: 0, yTitle: "a", yTitleX: 7, xTitle: "Chromosome" });
  panel({ x: xCM7, y: yc.a, yStep: 5, yLab: 10, yPad: 5, xTicks: chr7TicksCM, xLabels: chr7TicksCM.map(String),
    lines: [{ color: BLUE, pts: pairs(td.a7) }], hline: 0, yTitle: "a", yTitleX: 397, xTitle: "Chromosome 7 position (cM)" });
  panel({ x: xMBg, y: yc.gl, yStep: 2.5, yLab: 5, yPad: 4, xTicks: mbMid, xLabels: chromosomes,
    points: [{ color: GREEN, pts: rows(logpGreen) }, { color: BLUE, pts: rows(logpBlue).concat(rows(td.peak), rows(td.logp7, mbStart[6])) }],
    hline: gwasThreshold[h], yTitle: "logp", yTitleX: 8 });
  panel({ x: xMB7, y: yc.gr, yStep: 1, yLab: 2, yPad: 5, xTicks: chr7TicksMb, xLabels: chr7TicksMb.map(String),
    points: [{ color: BLUE, pts: rows(td.logp7) }], hline: gwasThreshold[h], yTitle: "logp", yTitleX: 394 });
  panel({ x: xMBg, y: yc.el, yStep: 5, yLab: 10, yPad: 4, xTicks: mbMid, xLabels: chromosomes,
    points: [{ color: GREEN, pts: rows(effGreen) }, { color: BLUE, pts: rows(effBlue).concat(rows(td.eff7, mbStart[6])) }],
    hline: 0, yTitle: "a", yTitleX: 7, xTitle: "Chromosome" });
  panel({ x: xMB7, y: yc.er, yStep: 5, yLab: 10, yPad: 5, xTicks: chr7TicksMb, xLabels: chr7TicksMb.map(String),
    points: [{ color: BLUE, pts: rows(td.eff7) }], hline: 0, yTitle: "a", yTitleX: 397, xTitle: "Chromosome 7 position (Mb)" });
});
</script></body></html>
